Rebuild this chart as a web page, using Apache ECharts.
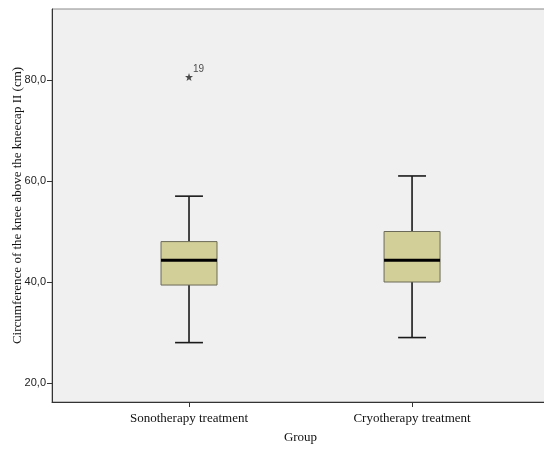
<!DOCTYPE html>
<html>
<head>
<meta charset="utf-8">
<script src="https://cdn.jsdelivr.net/npm/echarts@6/dist/echarts.min.js"></script>
<style>html,body{margin:0;padding:0;background:#fff;}#c{width:544px;height:450px;}</style>
</head>
<body>
<div id="c"></div>
<script>
// Data
const categories = ['Sonotherapy treatment', 'Cryotherapy treatment'];
// [min whisker, Q1, median, Q3, max whisker]
const boxStats = [
  [28.0, 39.4, 44.3, 48.0, 57.0],
  [29.0, 40.0, 44.3, 50.0, 61.0]
];
const outliers = [[1, 80.6, '19']];
const yTicks = [20, 40, 60, 80];

const chart = echarts.init(document.getElementById('c'), null, {renderer: 'canvas'});

const boxData = boxStats.map((s, i) => [i + 1].concat(s));

const option = {
  animation: false,
  backgroundColor: '#ffffff',
  grid: {
    left: 52, top: 9, bottom: 48, right: -5,
    outerBoundsMode: 'none',
    containLabel: false,
    show: true, backgroundColor: '#f0f0f0', borderColor: '#8a8a8a', borderWidth: 1
  },
  xAxis: {
    type: 'value',
    min: 0.3857, max: 2.614,
    name: 'Group',
    nameLocation: 'middle',
    nameGap: 29,
    nameMoveOverlap: false,
    nameTextStyle: {fontFamily: 'Liberation Serif', fontSize: 13, color: '#111'},
    splitLine: {show: false},
    axisLine: {show: true, onZero: false, lineStyle: {color: '#333', width: 1}},
    axisTick: {show: true, customValues: [1, 2], length: 5, lineStyle: {color: '#333'}},
    axisLabel: {
      customValues: [1, 2],
      formatter: v => categories[Math.round(v) - 1] || '',
      fontFamily: 'Liberation Serif', fontSize: 13, color: '#111', margin: 10
    }
  },
  yAxis: {
    type: 'value',
    min: 16.24, max: 94.06,
    name: 'Circumference of the knee above the kneecap II (cm)',
    nameLocation: 'middle',
    nameGap: 28,
    nameMoveOverlap: false,
    nameTextStyle: {fontFamily: 'Liberation Serif', fontSize: 13, color: '#111'},
    splitLine: {show: false},
    axisLine: {show: true, lineStyle: {color: '#333', width: 1}},
    axisTick: {show: true, customValues: yTicks, length: 5, lineStyle: {color: '#333'}},
    axisLabel: {
      customValues: yTicks,
      formatter: v => v.toFixed(1).replace('.', ','),
      fontFamily: 'Liberation Sans', fontSize: 11, color: '#222', margin: 6
    }
  },
  series: [
    {
      type: 'custom',
      data: boxData,
      renderItem: function (params, api) {
        const x = api.value(0);
        const lo = api.coord([x, api.value(1)]);
        const q1 = api.coord([x, api.value(2)]);
        const med = api.coord([x, api.value(3)]);
        const q3 = api.coord([x, api.value(4)]);
        const hi = api.coord([x, api.value(5)]);
        const unit = api.size([1, 0])[0];
        const bw = unit * 0.251 / 2;
        const cw = unit * 0.125 / 2;
        const cx = lo[0];
        const lineStyle = {stroke: '#1a1a1a', lineWidth: 1.6};
        return {
          type: 'group',
          children: [
            {type: 'line', shape: {x1: cx, y1: hi[1], x2: cx, y2: q3[1]}, style: lineStyle},
            {type: 'line', shape: {x1: cx, y1: q1[1], x2: cx, y2: lo[1]}, style: lineStyle},
            {type: 'line', shape: {x1: cx - cw, y1: hi[1], x2: cx + cw, y2: hi[1]}, style: lineStyle},
            {type: 'line', shape: {x1: cx - cw, y1: lo[1], x2: cx + cw, y2: lo[1]}, style: lineStyle},
            {type: 'rect', shape: {x: cx - bw, y: q3[1], width: bw * 2, height: q1[1] - q3[1]},
              style: {fill: '#d3cf98', stroke: '#6b6a58', lineWidth: 1}},
            {type: 'line', shape: {x1: cx - bw, y1: med[1], x2: cx + bw, y2: med[1]},
              style: {stroke: '#000', lineWidth: 3}}
          ]
        };
      }
    },
    {
      type: 'scatter',
      data: outliers.map(o => ({value: [o[0], o[1]], name: o[2]})),
      symbol: 'path://M50,0 L61.8,35.1 L97.6,34.5 L69.1,56.9 L79.4,90.5 L50,70 L20.6,90.5 L30.9,56.9 L2.4,34.5 L38.2,35.1 Z',
      symbolSize: 8,
      itemStyle: {color: '#222'},
      label: {
        show: true,
        formatter: p => p.name,
        position: 'right',
        offset: [-5, -8],
        fontFamily: 'Liberation Sans', fontSize: 10, color: '#222'
      }
    }
  ]
};
chart.setOption(option);
</script>
</body>
</html>
